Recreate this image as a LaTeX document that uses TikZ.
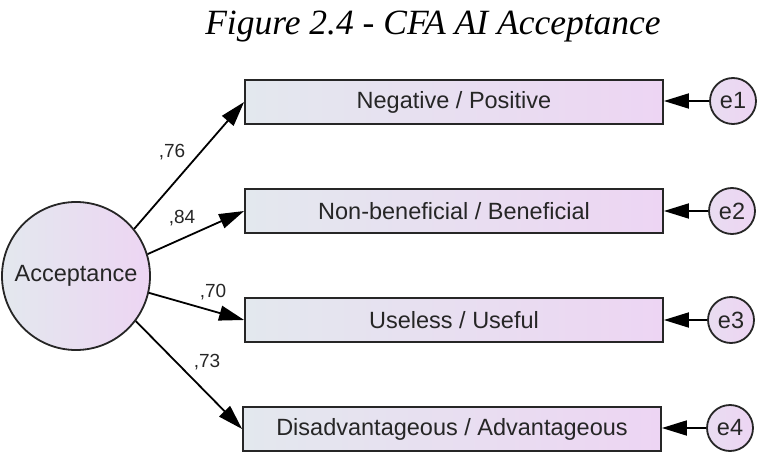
\documentclass[tikz,border=0pt]{standalone}
\usepackage{fontspec}
\setmainfont{Liberation Serif}
\setsansfont{Liberation Sans}
\usepackage{tikz}
\usetikzlibrary{arrows.meta, positioning}

\definecolor{boxleft}{HTML}{E3E8EE}
\definecolor{boxright}{HTML}{EDD5F3}
\definecolor{inkgray}{HTML}{262626}

\begin{document}
\begin{tikzpicture}[x=1pt, y=-1pt,
  item/.style={draw=inkgray, line width=1.8pt, left color=boxleft, right color=boxright,
    minimum width=418pt, minimum height=44pt, inner sep=0pt,
    font=\fontsize{23.5}{26}\selectfont\sffamily, text=inkgray},
  latent/.style={circle, draw=inkgray, line width=1.8pt, left color=boxleft, right color=boxright,
    minimum size=148pt, inner sep=0pt, font=\fontsize{23.5}{26}\selectfont\sffamily, text=inkgray},
  err/.style={circle, draw=inkgray, line width=1.8pt, left color=boxleft!40!boxright, right color=boxright,
    minimum size=46pt, inner sep=0pt, font=\fontsize{23.5}{26}\selectfont\sffamily, text=inkgray},
  load/.style={-{Triangle[length=25pt, width=15pt]}, line width=1.8pt, draw=black},
  coef/.style={font=\fontsize{19}{21}\selectfont\sffamily, text=inkgray}
]
  \useasboundingbox (0,0) rectangle (765,465);
  % Title
  \node[anchor=base, font=\fontsize{35.5}{40}\selectfont\itshape] (title) at (433,35) {Figure 2.4 - CFA AI Acceptance};
  % Latent factor
  \node[latent] (acc) at (76,276) {Acceptance};
  % Observed items and their errors
  \node[item] (neg) at (454,102) {Negative / Positive};
  \node[item] (ben) at (454,211) {Non-beneficial / Beneficial};
  \node[item] (use) at (454,320) {Useless / Useful};
  \node[item] (adv) at (452,429) {Disadvantageous / Advantageous};
  \node[err] (e1) at (733,101) {e1};
  \node[err] (e2) at (732,211) {e2};
  \node[err] (e3) at (731,320) {e3};
  \node[err] (e4) at (730,428) {e4};
  % Loadings
  \draw[load] (acc.39) -- (neg.west);
  \draw[load] (acc.17) -- (ben.west);
  \draw[load] (acc.-13) -- (use.west);
  \draw[load] (acc.-37) -- (adv.west);
  \node[coef] (c76) at (172,152) {,76};
  \node[coef] (c84) at (182,218) {,84};
  \node[coef] (c70) at (213,292) {,70};
  \node[coef] (c73) at (207,362) {,73};
  % Error paths
  \foreach \e/\b in {e1/neg, e2/ben, e3/use, e4/adv}
    \draw[load] (\e) -- (\b.east |- \e);
\end{tikzpicture}
\end{document}
